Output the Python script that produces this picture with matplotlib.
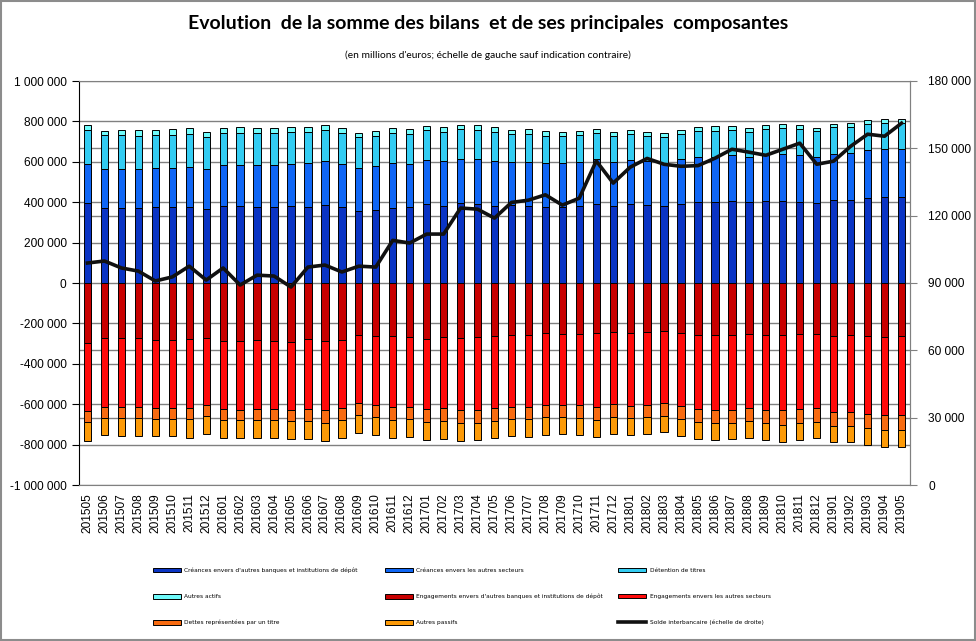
import numpy as np
import matplotlib
matplotlib.use("Agg")
import matplotlib.pyplot as plt
from matplotlib.ticker import FuncFormatter, MultipleLocator
from matplotlib.patches import Rectangle

months = ["201505","201506","201507","201508","201509","201510","201511","201512",
          "201601","201602","201603","201604","201605","201606","201607","201608",
          "201609","201610","201611","201612","201701","201702","201703","201704",
          "201705","201706","201707","201708","201709","201710","201711","201712",
          "201801","201802","201803","201804","201805","201806","201807","201808",
          "201809","201810","201811","201812","201901","201902","201903","201904","201905"]

# Actifs (millions d'euros)
creances_banques = [396000,371000,371000,371000,378000,378000,378000,366000,383000,383000,378000,378000,
                    383000,378000,386000,378000,356000,361000,371000,378000,391000,383000,396000,391000,
                    383000,386000,383000,378000,378000,383000,391000,383000,391000,386000,383000,391000,
                    402000,402000,406000,401000,406000,406000,401000,396000,412000,412000,422000,427000,427000]
creances_secteurs = [193000,193000,193000,193000,191000,191000,196000,198000,201000,201000,206000,206000,
                     206000,216000,218000,211000,213000,218000,223000,211000,218000,221000,218000,223000,
                     221000,213000,216000,216000,216000,216000,223000,216000,218000,218000,205000,223000,
                     221000,221000,228000,223000,228000,233000,233000,228000,226000,231000,236000,236000,236000]
detention_titres = [167000,167000,167000,163000,163000,163000,163000,158000,158000,158000,158000,158000,
                    158000,153000,152000,153000,153000,149000,149000,149000,147000,144000,147000,142000,
                    144000,139000,139000,134000,134000,134000,129000,129000,129000,124000,135000,124000,
                    129000,129000,124000,124000,129000,129000,129000,129000,134000,129000,129000,129000,129000]
autres_actifs = [26000,21000,26000,30000,25000,30000,30000,25000,25000,30000,25000,25000,
                 25000,25000,26000,25000,20000,25000,25000,25000,21000,25000,21000,26000,
                 25000,20000,25000,25000,20000,20000,20000,20000,20000,20000,20000,20000,
                 20000,25000,20000,20000,20000,20000,20000,15000,15000,20000,20000,20000,20000]
# Passifs (valeurs absolues, tracées en négatif)
engagements_banques = [297000,274000,274000,274000,284000,284000,279000,274000,287000,287000,284000,287000,
                       292000,279000,287000,284000,259000,264000,264000,269000,277000,269000,274000,269000,
                       264000,258000,258000,248000,253000,253000,248000,243000,248000,243000,238000,248000,
                       258000,258000,258000,253000,258000,258000,253000,253000,263000,258000,263000,268000,263000]
engagements_secteurs = [338000,340000,340000,340000,335000,335000,340000,330000,337000,342000,340000,337000,
                        338000,345000,342000,335000,335000,340000,350000,345000,347000,350000,355000,360000,
                        355000,356000,356000,356000,352000,352000,366000,356000,361000,361000,356000,361000,
                        366000,371000,371000,366000,371000,371000,371000,366000,376000,381000,386000,386000,391000]
dettes_titre = [54000,54000,54000,54000,54000,54000,54000,54000,54000,50000,54000,54000,
                53000,59000,64000,59000,59000,59000,64000,59000,64000,64000,64000,64000,
                64000,59000,59000,59000,59000,64000,64000,64000,59000,59000,63000,64000,
                64000,64000,64000,64000,64000,74000,69000,69000,69000,69000,69000,74000,74000]
autres_passifs = [94000,84000,89000,89000,84000,84000,94000,89000,89000,89000,89000,89000,
                  89000,89000,91000,89000,89000,89000,89000,89000,89000,89000,89000,84000,
                  84000,84000,89000,89000,84000,84000,84000,84000,84000,84000,81000,84000,
                  84000,84000,79000,84000,84000,84000,84000,79000,79000,79000,84000,84000,84000]
# Solde interbancaire (échelle de droite)
solde_interbancaire = [98900,99800,96700,95300,90900,92700,97500,91300,96700,89100,93500,93100,
                       88200,97100,98000,94900,97500,97100,109000,107800,111800,111800,123400,122900,
                       118900,125900,126900,129300,124700,127800,144400,134500,141600,145500,142900,142000,
                       142300,145600,149600,148300,146900,149600,152300,142900,144300,150900,156300,155400,161200]

labels_pos = ["Créances envers d'autres banques et institutions de dépôt",
              "Créances envers les autres secteurs",
              "Détention de titres",
              "Autres actifs"]
labels_neg = ["Engagements envers d'autres banques et institutions de dépôt",
              "Engagements envers les autres secteurs",
              "Dettes représentées par un titre",
              "Autres passifs"]
label_line = "Solde interbancaire (échelle de droite)"
colors_pos = ["#0a34c4", "#0f66f5", "#33ccf2", "#70fbfb"]
colors_neg = ["#c80000", "#ff0a0a", "#f86b10", "#fc9a08"]

TICK_FONT = "Liberation Sans"

fig = plt.figure(figsize=(9.76, 6.41), dpi=100)
ax = fig.add_axes([79/976, 1-485/641, 831/976, 404/641])

x = np.arange(len(months))
w = 0.43
handles = []
bottom = np.zeros(len(months))
for vals, c, lab in zip([creances_banques, creances_secteurs, detention_titres, autres_actifs], colors_pos, labels_pos):
    v = np.array(vals, dtype=float)
    h = ax.bar(x, v, w, bottom=bottom, color=c, edgecolor="black", linewidth=0.7, zorder=3, label=lab)
    handles.append(h)
    bottom += v
bottom = np.zeros(len(months))
for vals, c, lab in zip([engagements_banques, engagements_secteurs, dettes_titre, autres_passifs], colors_neg, labels_neg):
    v = -np.array(vals, dtype=float)
    h = ax.bar(x, v, w, bottom=bottom, color=c, edgecolor="black", linewidth=0.7, zorder=3, label=lab)
    handles.append(h)
    bottom += v

ax.set_xlim(-0.5, len(months) - 0.5)
ax.set_ylim(-1_000_000, 1_000_000)
ax.yaxis.set_major_locator(MultipleLocator(200_000))
ax.set_yticks(np.linspace(-1_000_000, 1_000_000, 7), minor=True)
fmt = lambda v, p: f"{int(round(v)):,}".replace(",", " ")
ax.yaxis.set_major_formatter(FuncFormatter(fmt))
ax.grid(True, which="major", axis="y", color="#808080", linewidth=1.0, zorder=0)
ax.grid(True, which="minor", axis="y", color="#808080", linewidth=1.0, zorder=0)
ax.tick_params(axis="y", which="minor", length=0)
ax.tick_params(axis="y", which="major", length=5, width=0.8, labelsize=8.6, pad=4)
ax.set_xticks(x)
ax.set_xticklabels(months, rotation=90, fontsize=8.6)
ax.tick_params(axis="x", length=0, pad=6)
for lbl in ax.get_xticklabels() + ax.get_yticklabels():
    lbl.set_family(TICK_FONT)
for s in ["top", "right", "bottom"]:
    ax.spines[s].set_color("#808080")
ax.spines["left"].set_color("black")

ax2 = ax.twinx()
ln, = ax2.plot(x, solde_interbancaire, color="#111111", linewidth=2.6, zorder=5, label=label_line)
ax2.set_ylim(0, 180_000)
ax2.yaxis.set_major_locator(MultipleLocator(30_000))
ax2.yaxis.set_major_formatter(FuncFormatter(fmt))
ax2.tick_params(axis="y", length=5, width=0.8, color="#808080", labelsize=8.6, pad=8)
for lbl in ax2.get_yticklabels():
    lbl.set_family(TICK_FONT)
for s in ["top", "left", "bottom"]:
    ax2.spines[s].set_visible(False)
ax2.spines["right"].set_color("#808080")
handles.append(ln)

# Title and subtitle
fig.text(0.5, 1-23/641, "Evolution  de la somme des bilans  et de ses principales  composantes",
         ha="center", va="center", fontsize=14, fontweight="bold", family="Lato")
fig.text(0.5, 1-55/641, "(en millions d'euros; échelle de gauche sauf indication contraire)",
         ha="center", va="center", fontsize=7.4, family="Lato")

# Legend: 3 columns placed at fixed positions, row-major order
all_labels = labels_pos + labels_neg + [label_line]
col_x = [152.7/976, 385/976, 618.3/976]
for ci in range(3):
    idx = [ci, ci + 3, ci + 6]
    leg = fig.legend([handles[i] for i in idx], [all_labels[i] for i in idx],
                     loc="upper left", bbox_to_anchor=(col_x[ci], 1-567.5/641),
                     frameon=False, fontsize=4.2, handlelength=4.8, handleheight=0.9,
                     handletextpad=0.6, labelspacing=3.55, borderpad=0, borderaxespad=0)

# Chart frame
fig.patches.append(Rectangle((0.001, 0.001), 0.998, 0.998, transform=fig.transFigure,
                             fill=False, edgecolor="#8c8c8c", linewidth=1.5))

fig.savefig("out.png", dpi=100)
